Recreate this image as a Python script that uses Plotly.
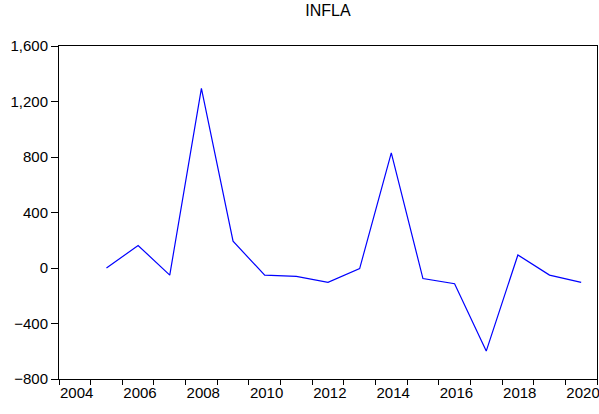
import plotly.graph_objects as go

years = [2005, 2006, 2007, 2008, 2009, 2010, 2011, 2012,
         2013, 2014, 2015, 2016, 2017, 2018, 2019, 2020]
infla = [0, 162, -51, 1295, 193, -52, -60, -103,
         -4, 830, -76, -113, -599, 94, -51, -103]

tick_years = list(range(2004, 2022))
tick_text = [str(y) if y % 2 == 0 and y <= 2020 else "" for y in tick_years]

# annual data: plotted at mid-period, like EViews
x_mid = [y + 0.5 for y in years]

fig = go.Figure()
fig.add_trace(go.Scatter(x=x_mid, y=infla, mode="lines",
                         line=dict(color="#0000ff", width=1.2),
                         showlegend=False))

font = dict(family="Liberation Sans, Arial, sans-serif", size=15, color="#000000")

fig.update_layout(
    width=599, height=414,
    margin=dict(l=59, r=2, t=46, b=35),
    paper_bgcolor="white", plot_bgcolor="white",
    title=dict(text="INFLA", x=(59 + 597) / 2 / 599, xanchor="center",
               yref="container", y=1 - 5 / 414, yanchor="top",
               font=dict(family=font["family"], size=16, color="#000000")),
    font=font,
)
fig.update_xaxes(range=[2004, 2021], tickvals=tick_years, ticktext=tick_text,
                 ticks="outside", ticklen=5, tickcolor="black", tickwidth=1,
                 ticklabelposition="outside right", ticklabeloverflow="allow",
                 automargin=False,
                 showline=True, linecolor="black", linewidth=1, mirror=True,
                 showgrid=False, zeroline=False, tickfont=font)
fig.update_yaxes(range=[-800, 1600], dtick=400, tick0=0, tickformat=",",
                 ticks="outside", ticklen=7, tickcolor="black", tickwidth=1,
                 automargin=False,
                 showline=True, linecolor="black", linewidth=1, mirror=True,
                 showgrid=False, zeroline=False, tickfont=font)

# drop the default page margin so the figure fills the window exactly
post = ("document.body.style.margin='0';"
        "document.body.style.overflow='hidden';"
        "Plotly.relayout('{plot_id}', {width: 599, height: 414});")

fig.write_html("out.html", post_script=post, config={"displayModeBar": False})
